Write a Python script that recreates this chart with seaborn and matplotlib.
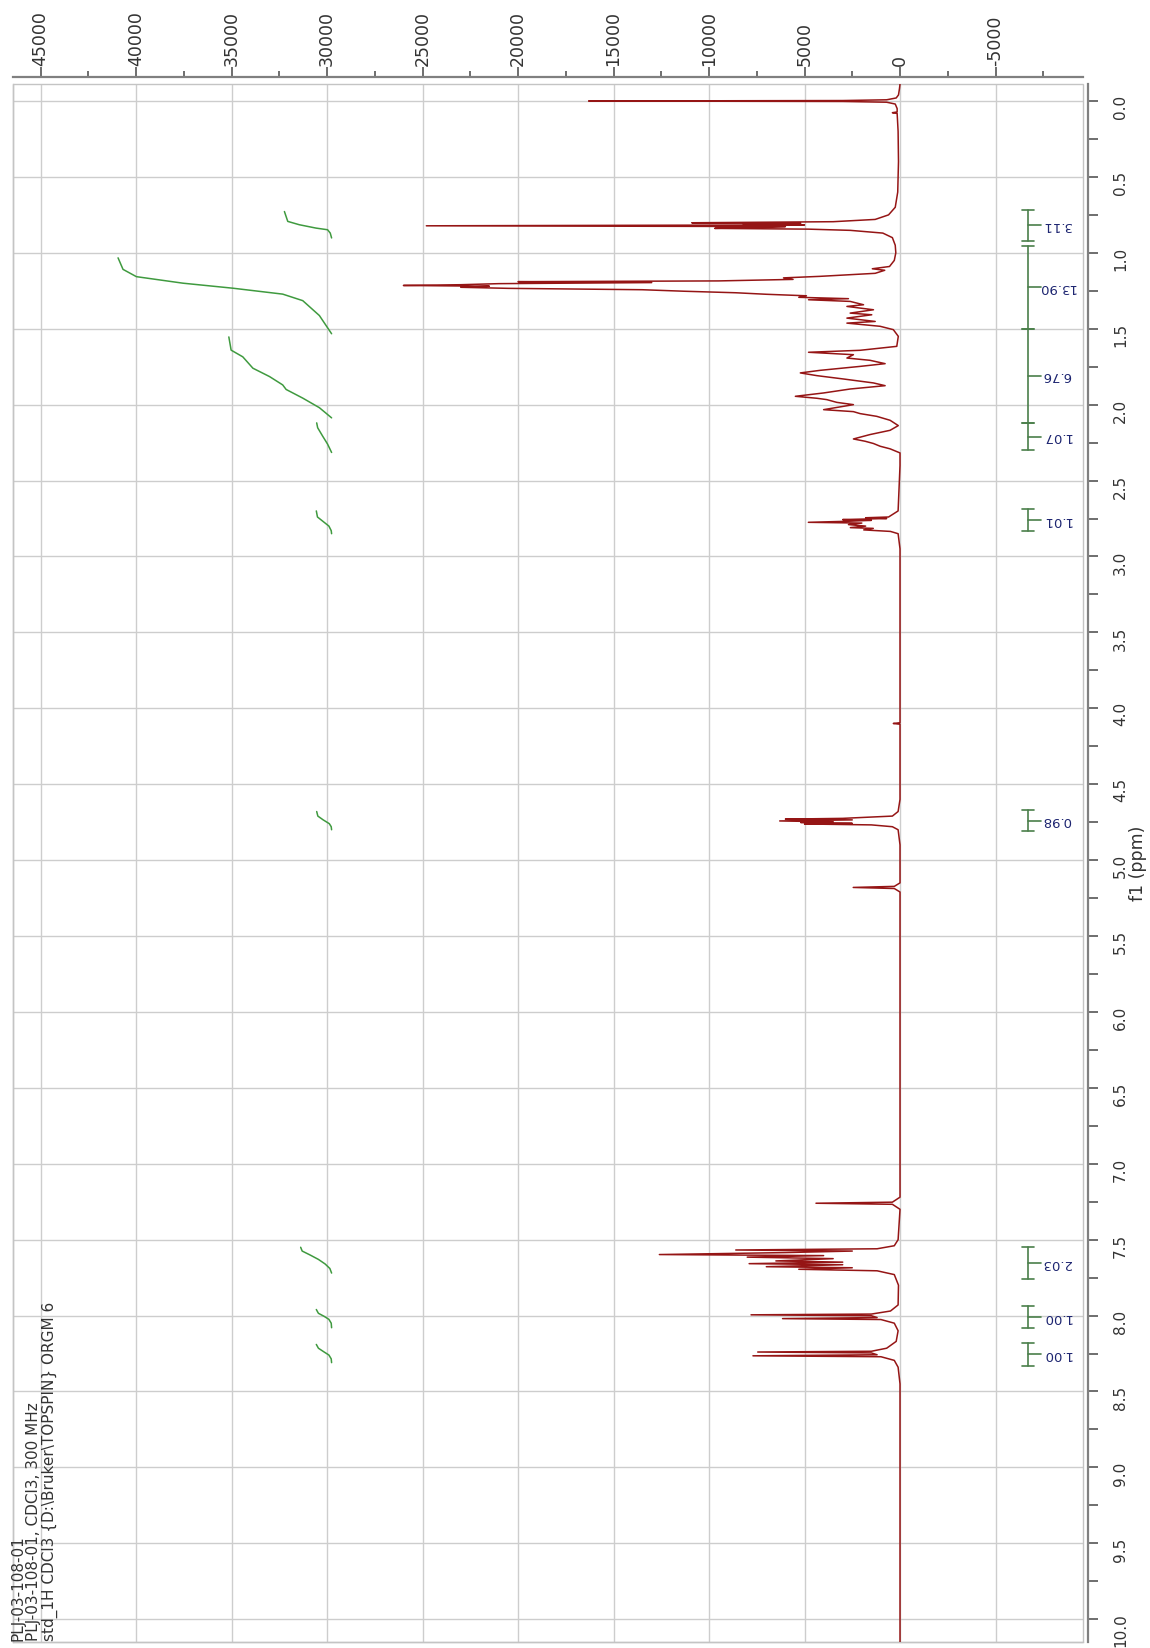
import numpy as np
import pandas as pd
import matplotlib
matplotlib.use("Agg")
import matplotlib.pyplot as plt
from matplotlib.ticker import MultipleLocator, FormatStrFormatter
from matplotlib.patches import Rectangle
import seaborn as sns

# ---------------- data ----------------
spec_ppm = [-0.112, -0.08, -0.04, -0.02, -0.008, -0.003, 0.0, 0.003, 0.008, 0.02, 0.05, 0.072, 0.077, 0.082,
            0.2, 0.4, 0.6, 0.70, 0.75, 0.78, 0.795, 0.802, 0.806, 0.811, 0.816, 0.822, 0.827, 0.833, 0.839,
            0.844, 0.852, 0.87, 0.90, 0.95, 1.00, 1.05, 1.09, 1.105, 1.115, 1.135, 1.155, 1.165, 1.175, 1.185,
            1.19, 1.196, 1.203, 1.21, 1.215, 1.22, 1.227, 1.234, 1.243, 1.253, 1.263, 1.273, 1.283, 1.293,
            1.302, 1.309, 1.32, 1.342, 1.353, 1.375, 1.397, 1.408, 1.43, 1.452, 1.463, 1.484, 1.506, 1.55,
            1.616, 1.642, 1.655, 1.671, 1.693, 1.708, 1.73, 1.748, 1.774, 1.791, 1.809, 1.831, 1.857, 1.875,
            1.897, 1.923, 1.945, 1.958, 1.967, 1.985, 2.0, 2.033, 2.046, 2.059, 2.077, 2.103, 2.138, 2.169,
            2.197, 2.226, 2.241, 2.256, 2.274, 2.291, 2.318, 2.4, 2.70, 2.74, 2.745, 2.75, 2.757, 2.762,
            2.768, 2.775, 2.78, 2.79, 2.80, 2.81, 2.815, 2.825, 2.835, 2.85, 2.95, 4.095, 4.10, 4.105,
            4.60, 4.68, 4.71, 4.725, 4.73, 4.735, 4.742, 4.748, 4.752, 4.758, 4.762, 4.768, 4.78, 4.80,
            4.90, 5.15, 5.173, 5.18, 5.187, 5.21, 7.22, 7.253, 7.26, 7.267, 7.30, 7.50, 7.54, 7.56, 7.568,
            7.575, 7.585, 7.598, 7.605, 7.615, 7.625, 7.64, 7.648, 7.658, 7.665, 7.678, 7.685, 7.695, 7.705,
            7.73, 7.80, 7.93, 7.97, 7.99, 7.995, 8.001, 8.013, 8.02, 8.026, 8.05, 8.10, 8.17, 8.215, 8.235,
            8.24, 8.246, 8.258, 8.265, 8.271, 8.295, 8.34, 8.45, 10.15]
spec_int = [0, 30, 80, 200, 700, 3000, 16300, 3000, 700, 250, 150, 150, 400, 150,
            100, 80, 120, 250, 600, 1300, 3500, 10900, 5200, 8200, 5000, 24800, 6000, 7600, 9700,
            4800, 2600, 900, 400, 250, 220, 300, 550, 1450, 800, 1300, 4200, 6100, 5600, 9500,
            20000, 13000, 21000, 23000, 26000, 21500, 23000, 20500, 13500, 11300, 8600, 7000, 4900, 5300,
            2700, 4790, 2610, 1910, 2780, 1390, 2610, 1480, 2780, 1300, 2780, 1040, 350, 90,
            170, 2090, 4790, 2440, 2780, 1570, 780, 2090, 4180, 5220, 4350, 2960, 1390, 780,
            2610, 4000, 5480, 4350, 3830, 3310, 2440, 4000, 2440, 2090, 1220, 520, 90, 520,
            1570, 2440, 1830, 1390, 1040, 520, 0, 0, 100, 600, 1800, 700, 3000, 1500,
            2700, 4800, 2000, 2700, 1800, 2600, 1400, 1900, 500, 100, 0, 0, 350, 0,
            0, 100, 400, 3000, 6000, 2500, 6300, 3500, 5200, 2500, 5000, 1500, 400, 100,
            0, 0, 300, 2450, 300, 0, 0, 400, 4400, 400, 0, 100, 300, 1200, 8600,
            2500, 6000, 12600, 4000, 8000, 3500, 6500, 3000, 7900, 3000, 7000, 2500, 5300, 1200,
            300, 80, 100, 500, 1500, 7800, 1500, 1200, 6150, 1000, 300, 100, 200, 700, 1500,
            7450, 1500, 1200, 7700, 1000, 300, 100, 0, 0]

# integral curves (ppm, value on intensity scale)
int_region = ([1] * 7 + [2] * 9 + [3] * 10 + [4] * 5 + [5] * 6 + [6] * 6 + [7] * 7 + [8] * 6 + [9] * 6)
int_ppm = [0.728, 0.793, 0.815, 0.837, 0.848, 0.870, 0.902,
           1.033, 1.109, 1.157, 1.20, 1.233, 1.272, 1.315, 1.413, 1.533,
           1.554, 1.641, 1.685, 1.76, 1.815, 1.87, 1.90, 1.957, 2.02, 2.087,
           2.12, 2.152, 2.207, 2.26, 2.315,
           2.70, 2.74, 2.77, 2.80, 2.83, 2.85,
           4.68, 4.71, 4.735, 4.76, 4.78, 4.80,
           7.55, 7.575, 7.60, 7.63, 7.66, 7.69, 7.72,
           7.96, 7.985, 8.005, 8.025, 8.05, 8.08,
           8.19, 8.215, 8.24, 8.26, 8.285, 8.31]
int_val = [32230, 32055, 31450, 30580, 29970, 29830, 29760,
           40940, 40680, 39980, 37540, 34930, 32320, 31270, 30400, 29760,
           35140, 35020, 34410, 33880, 33010, 32320, 32140, 31270, 30400, 29760,
           30540, 30490, 30230, 29970, 29760,
           30560, 30500, 30200, 29900, 29780, 29760,
           30540, 30480, 30200, 29880, 29780, 29760,
           31380, 31300, 30900, 30450, 30100, 29850, 29760,
           30560, 30450, 30150, 29900, 29780, 29760,
           30560, 30450, 30150, 29900, 29780, 29760]

# integral brackets
integral_labels = ['3.11', '13.90', '6.76', '1.07', '1.01', '0.98', '2.03', '1.00', '1.00']
integral_start = [0.72, 0.955, 1.50, 2.12, 2.69, 4.67, 7.55, 7.94, 8.18]
integral_end = [0.92, 1.50, 2.12, 2.30, 2.83, 4.81, 7.76, 8.08, 8.33]

header_lines = ["PLJ-03-108-01",
                "PLJ-03-108-01, CDCl3, 300 MHz",
                "std_1H CDCl3 {D:\\Bruker\\TOPSPIN} ORGM 6"]

# ---------------- figure ----------------
sns.set_style("white")
plt.rcParams['font.family'] = ['DejaVu Sans']
plt.rcParams['axes.unicode_minus'] = False

W, H = 1150, 1648
fig = plt.figure(figsize=(W / 100, H / 100), dpi=100)
ax = fig.add_axes([13 / W, 1 - 1642 / H, 1070 / W, (1642 - 84) / H])

spec = pd.DataFrame({'ppm': spec_ppm, 'intensity': spec_int})
sns.lineplot(data=spec, x='intensity', y='ppm', sort=False, estimator=None,
             color='#951515', linewidth=1.1, ax=ax, zorder=3)

integ = pd.DataFrame({'region': int_region, 'ppm': int_ppm, 'value': int_val})
sns.lineplot(data=integ, x='value', y='ppm', units='region', sort=False, estimator=None,
             color='#3f9a3f', linewidth=1.1, ax=ax, zorder=3)

ax.set_xlim(46440, -9580)
ax.set_ylim(10.15, -0.112)

# axes styling
ax.xaxis.tick_top()
ax.yaxis.tick_right()
ax.xaxis.set_major_locator(MultipleLocator(5000))
ax.xaxis.set_minor_locator(MultipleLocator(2500))
ax.xaxis.set_major_formatter(FormatStrFormatter('%d'))
ax.yaxis.set_major_locator(MultipleLocator(0.5))
ax.yaxis.set_minor_locator(MultipleLocator(0.25))
ax.yaxis.set_major_formatter(FormatStrFormatter('%.1f'))

ax.tick_params(axis='x', which='major', direction='out', length=7, width=1.2, color='#555555',
               labelsize=12.5, labelrotation=90, pad=1, labelcolor='#333333')
ax.tick_params(axis='x', which='minor', direction='out', length=4, width=1.2, color='#555555')
ax.tick_params(axis='y', which='both', direction='out', length=7, width=1.2, color='#555555',
               labelsize=11, labelrotation=90, pad=11, labelcolor='#333333')

for s in ['left', 'bottom']:
    ax.spines[s].set_color('#c4c4c4')
    ax.spines[s].set_linewidth(1)
ax.spines['top'].set_position(('outward', 5))
ax.spines['right'].set_position(('outward', 3.5))
for s in ['top', 'right']:
    ax.spines[s].set_color('#808080')
    ax.spines[s].set_linewidth(1.6)
ax.add_patch(Rectangle((0, 0), 1, 1, transform=ax.transAxes, fill=False,
                       edgecolor='#c4c4c4', linewidth=1, zorder=1, clip_on=False))

ax.grid(True, which='major', color='#cdcdcd', linewidth=1)
ax.set_axisbelow(True)

ax.set_xlabel('')
ax.yaxis.set_label_position('right')
ax.set_ylabel('f1 (ppm)', fontsize=12.5, rotation=90, labelpad=1, color='#333333')

# integral brackets and labels
bar_x, cap_a, cap_b, tick_end, label_x = -6700, -6390, -7015, -7380, -8200
for lab, a, b in zip(integral_labels, integral_start, integral_end):
    mid = (a + b) / 2
    ax.plot([bar_x, bar_x], [a, b], color='#4a7f4a', lw=1.2, zorder=4)
    ax.plot([cap_a, cap_b], [a, a], color='#4a7f4a', lw=1.2, zorder=4)
    ax.plot([cap_a, cap_b], [b, b], color='#4a7f4a', lw=1.2, zorder=4)
    ax.plot([bar_x, tick_end], [mid, mid], color='#4a7f4a', lw=1.2, zorder=4)
    ax.text(label_x, mid, lab, rotation=180, ha='center', va='center',
            fontsize=9.5, color='#1c2470', zorder=5)

for i, line in enumerate(header_lines):
    fig.text((18 + 16 * i) / W, 1 - 1641 / H, line, rotation=90, ha='center', va='bottom',
             fontsize=11, color='#333333')

fig.savefig('out.png', dpi=100)
